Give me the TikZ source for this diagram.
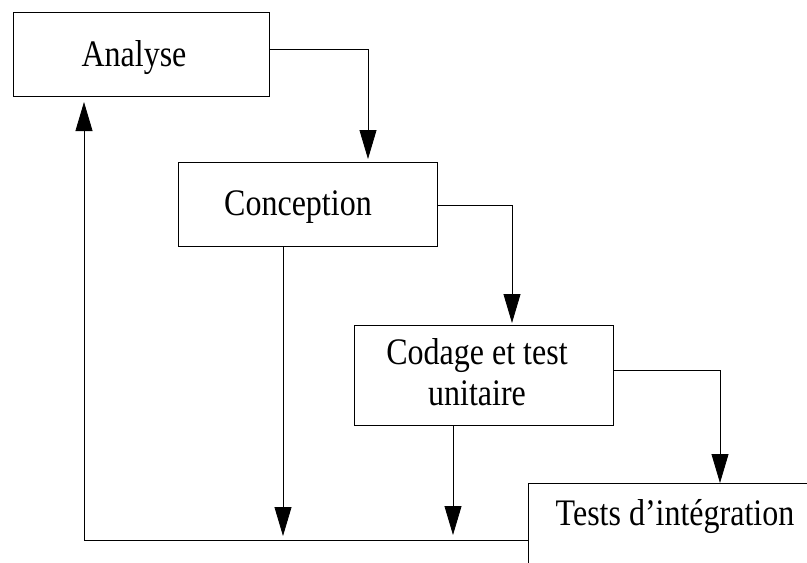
\documentclass[tikz,border=0pt]{standalone}
\usepackage{fontspec}
\setmainfont{Liberation Serif}
\usetikzlibrary{arrows.meta}
% slightly tall lettering
\newcommand{\tall}[1]{\scalebox{1}[1.17]{#1}}
\begin{document}
\begin{tikzpicture}[x=1pt,y=-1pt,
  stage/.style={draw, line width=0.9pt, inner sep=0pt, anchor=north west},
  label/.style={font=\fontsize{32}{41}\selectfont, inner sep=0pt, align=center},
  flow/.style={line width=0.8pt, -{Triangle[length=29pt,width=17pt]}},
  wire/.style={line width=0.8pt}]
  \useasboundingbox (0,0) rectangle (807,563);
  \clip (0,0) rectangle (807,563);

  % phase boxes
  \node[stage, minimum width=256pt, minimum height=84pt]  (ana) at (13,12)  {};
  \node[stage, minimum width=259pt, minimum height=84pt]  (con) at (178,162) {};
  \node[stage, minimum width=259pt, minimum height=100pt] (cod) at (354,325) {};
  \node[stage, minimum width=330pt, minimum height=140pt] (tst) at (528,483) {};

  % box texts
  \node[label, anchor=base] (tana) at (134,66)  {\tall{Analyse}};
  \node[label, anchor=base] (tcon) at (298,215) {\tall{Conception}};
  \node[label]              (tcod) at (477,372) {\tall{Codage et test}\\\tall{unitaire}};
  \node[label, anchor=base] (ttst) at (675,525) {\tall{Tests d’intégration}};

  % cascade connectors
  \coordinate (b1) at (368,49);
  \coordinate (b2) at (512,205);
  \coordinate (b3) at (720,370);
  \draw[flow, shorten >=3pt] (ana.east |- b1) -- (b1) -- (b1 |- con.north);
  \draw[flow, shorten >=2pt] (con.east |- b2) -- (b2) -- (b2 |- cod.north);
  \draw[flow] (cod.east |- b3) -- (b3) -- (b3 |- tst.north);

  % feedback connectors
  \coordinate (d1) at (283,536);
  \coordinate (d2) at (453,535);
  \coordinate (fl) at (84,540);
  \coordinate (up) at (84,102);
  \draw[flow] (d1 |- con.south) -- (d1);
  \draw[flow] (d2 |- cod.south) -- (d2);
  \draw[wire] (fl -| tst.west) -- (fl);
  \draw[flow] (fl) -- (up);
\end{tikzpicture}
\end{document}
